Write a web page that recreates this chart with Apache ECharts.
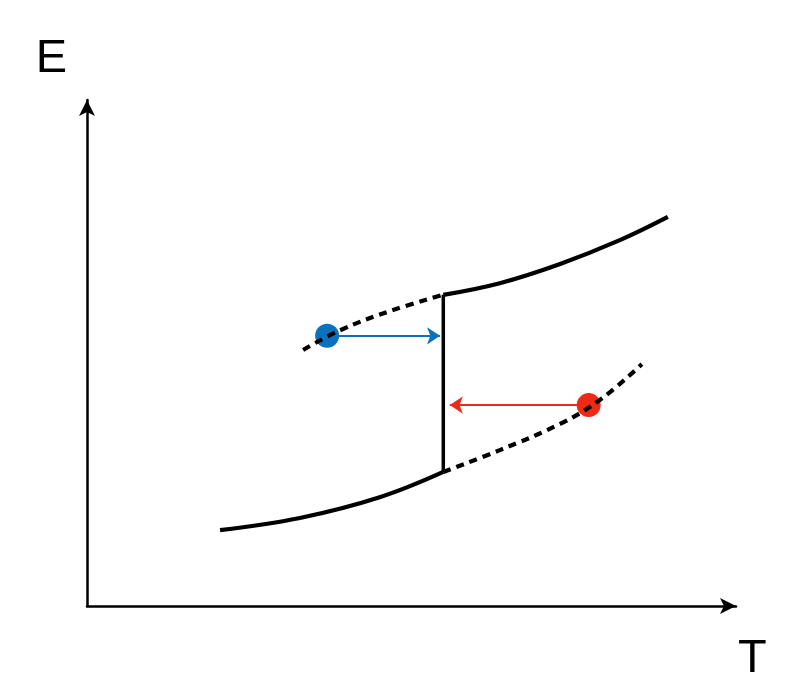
<!DOCTYPE html>
<html>
<head>
<meta charset="utf-8">
<script src="https://cdn.jsdelivr.net/npm/echarts@6/dist/echarts.min.js"></script>
<style>
  html, body { margin: 0; padding: 0; background: #fff; }
  #chart { width: 806px; height: 678px; }
</style>
</head>
<body>
<div id="chart"></div>
<script>
// curve points [T, E]
var lowerSolid = [[20.5, 15.0], [32.8, 17.4], [45.1, 21.5], [54.9, 26.5]];
var lowerDashed = [[54.9, 26.5], [63.6, 30.8], [72.9, 36.0], [79.0, 40.7], [85.5, 47.8]];
var upperSolid = [[54.9, 61.5], [63.6, 63.8], [72.9, 67.6], [82.1, 72.3], [89.5, 76.9]];
var upperDashed = [[33.3, 50.6], [39.0, 54.5], [46.7, 58.3], [54.9, 61.5]];
var jump = [[54.9, 26.5], [54.9, 61.5]];
// dots and their arrows
var blueDot = [37.0, 53.4];
var blueArrowEnd = [54.4, 53.4];
var redDot = [77.3, 39.7];
var redArrowEnd = [55.9, 39.7];

var chart = echarts.init(document.getElementById('chart'));

var black = { color: '#000', width: 4.2 };
var dashed = { color: '#000', width: 4.2, type: [8, 6] };

var option = {
  animation: false,
  grid: { left: 87, right: 70, top: 100, bottom: 72, outerBoundsMode: 'none', containLabel: false },
  xAxis: {
    type: 'value', min: 0, max: 100,
    name: 'T', nameLocation: 'end', nameGap: 2,
    nameTextStyle: { fontSize: 47, fontFamily: 'Liberation Sans', color: '#000', align: 'left', verticalAlign: 'top', padding: [30, 0, 0, 0] },
    axisLine: { lineStyle: { color: '#000', width: 2.5 }, symbol: ['none', 'arrow'], symbolSize: [12, 16] },
    axisTick: { show: false }, axisLabel: { show: false }, splitLine: { show: false }
  },
  yAxis: {
    type: 'value', min: 0, max: 100,
    name: 'E', nameLocation: 'end', nameGap: 17,
    nameTextStyle: { fontSize: 47, fontFamily: 'Liberation Sans', color: '#000', align: 'right', verticalAlign: 'bottom', padding: [0, 20, 0, 0] },
    axisLine: { lineStyle: { color: '#000', width: 2.5 }, symbol: ['none', 'arrow'], symbolSize: [12, 16] },
    axisTick: { show: false }, axisLabel: { show: false }, splitLine: { show: false }
  },
  series: [
    { type: 'line', data: lowerSolid, smooth: 0.4, showSymbol: false, lineStyle: black },
    { type: 'line', data: upperSolid, smooth: 0.4, showSymbol: false, lineStyle: black },
    { type: 'line', data: lowerDashed, smooth: 0.4, showSymbol: false, lineStyle: dashed },
    { type: 'line', data: upperDashed, smooth: 0.4, showSymbol: false, lineStyle: dashed },
    { type: 'line', data: jump, showSymbol: false, lineStyle: { color: '#000', width: 3.5 } },
    {
      type: 'lines', coordinateSystem: 'cartesian2d', symbol: ['none', 'arrow'], symbolSize: 13,
      data: [
        { coords: [blueDot, blueArrowEnd], lineStyle: { color: '#0a72bd', width: 2.2, opacity: 1 } },
        { coords: [redDot, redArrowEnd], lineStyle: { color: '#ee2a17', width: 2.2, opacity: 1 } }
      ]
    },
    { type: 'scatter', data: [blueDot], symbolSize: 24, itemStyle: { color: '#0a72bd', opacity: 1 } },
    { type: 'scatter', data: [redDot], symbolSize: 24, itemStyle: { color: '#ee2a17', opacity: 1 } }
  ]
};
chart.setOption(option);
</script>
</body>
</html>
